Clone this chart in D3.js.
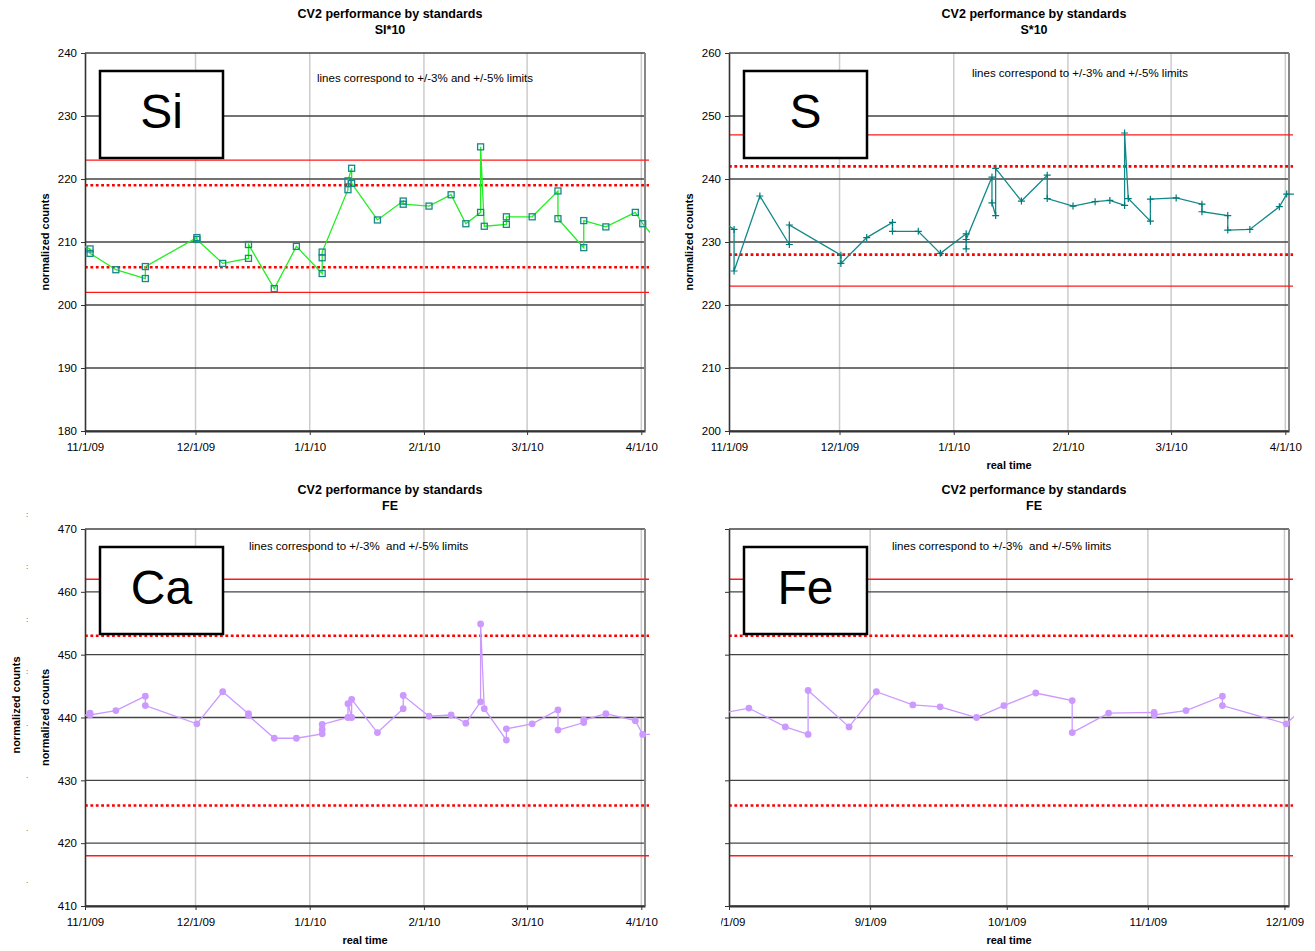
<!DOCTYPE html>
<html>
<head>
<meta charset="utf-8">
<script src="https://cdn.jsdelivr.net/npm/d3@7"></script>
<style>
  body { margin: 0; background: #fff; }
  svg { display: block; font-family: "Liberation Sans", Arial, sans-serif; }
  .tick text { font-size: 11.5px; fill: #000; }
</style>
</head>
<body>
<svg id="chart"></svg>
<script>
// ---- data ----
const siDates = ["2009-10-31","2009-11-02","2009-11-02","2009-11-09","2009-11-17","2009-11-17","2009-12-01","2009-12-01","2009-12-08","2009-12-15","2009-12-15","2009-12-22","2009-12-28","2010-01-04","2010-01-04","2010-01-04","2010-01-11","2010-01-11","2010-01-12","2010-01-12","2010-01-19","2010-01-26","2010-01-26","2010-02-02","2010-02-08","2010-02-12","2010-02-16","2010-02-16","2010-02-17","2010-02-23","2010-02-23","2010-03-02","2010-03-09","2010-03-09","2010-03-16","2010-03-16","2010-03-22","2010-03-30","2010-04-01","2010-04-03"];
const siValues = [209.4,208.9,208.2,205.6,204.2,206.1,210.7,210.4,206.6,207.4,209.6,202.6,209.3,205.0,207.5,208.4,218.3,219.7,221.7,219.3,213.5,216.5,216.0,215.7,217.5,212.9,214.7,225.1,212.5,212.8,214.0,214.0,218.1,213.7,209.1,213.4,212.4,214.7,212.9,211.5];

const sDates = siDates;
const sValues = [232.8,232.0,225.4,237.3,229.6,232.7,227.9,226.6,230.7,233.1,231.7,231.7,228.2,231.3,228.9,230.4,240.3,236.2,234.2,241.7,236.5,240.6,236.9,235.7,236.4,236.6,235.8,247.3,236.9,233.3,236.8,237.0,236.0,234.8,234.2,231.9,232.0,235.6,237.6,237.6];

const caDates = ["2009-10-31","2009-11-02","2009-11-02","2009-11-09","2009-11-17","2009-11-17","2009-12-01","2009-12-08","2009-12-15","2009-12-15","2009-12-22","2009-12-28","2010-01-04","2010-01-04","2010-01-04","2010-01-11","2010-01-11","2010-01-12","2010-01-12","2010-01-19","2010-01-26","2010-01-26","2010-02-02","2010-02-08","2010-02-12","2010-02-16","2010-02-16","2010-02-17","2010-02-23","2010-02-23","2010-03-02","2010-03-09","2010-03-09","2010-03-16","2010-03-16","2010-03-22","2010-03-30","2010-04-01","2010-04-03"];
const caValues = [440.2,440.7,440.4,441.1,443.4,441.9,439.0,444.1,440.6,440.3,436.7,436.7,437.4,438.1,438.9,440.0,442.2,440.0,442.9,437.6,441.4,443.5,440.2,440.4,439.1,442.5,454.9,441.4,436.4,438.2,439.0,441.2,438.0,439.2,439.6,440.6,439.5,437.3,437.3];

const feDates = ["2009-07-31","2009-08-05","2009-08-13","2009-08-18","2009-08-18","2009-08-27","2009-09-02","2009-09-10","2009-09-16","2009-09-24","2009-09-30","2009-10-07","2009-10-15","2009-10-15","2009-10-23","2009-11-02","2009-11-02","2009-11-09","2009-11-17","2009-11-17","2009-12-01","2009-12-03"];
const feValues = [440.8,441.5,438.5,437.3,444.3,438.5,444.1,442.0,441.7,440.0,441.9,443.9,442.7,437.6,440.7,440.8,440.4,441.1,443.4,441.9,439.0,440.3];

// +/-5% (solid) and +/-3% (dotted) limit lines
const siSolidLimits = [202, 223];
const siDottedLimits = [206, 219];
const sSolidLimits = [223, 247];
const sDottedLimits = [228, 242];
const caSolidLimits = [418, 462];
const caDottedLimits = [426, 453];
const feSolidLimits = caSolidLimits;
const feDottedLimits = caDottedLimits;

const titleLine1 = "CV2 performance by standards";
const subTitles = ["SI*10", "S*10", "FE", "FE"];
const elementNames = ["Si", "S", "Ca", "Fe"];
const noteText = ["lines correspond to +/-3% and +/-5% limits", "lines correspond to +/-3%  and +/-5% limits"];
const leftEdgeMarks = [":", ":", ":", ":", ".", ".", ".", "."]; // clipped labels of a hidden axis

// ---- drawing ----
const width = 1315, height = 951;
const svg = d3.select("#chart").attr("width", width).attr("height", height);
svg.append("rect").attr("width", width).attr("height", height).attr("fill", "#fff");

const parseDay = d3.timeParse("%Y-%m-%d");
// samples were run during the day, not at midnight
const toTime = s => d3.timeHour.offset(parseDay(s), 9);

const panels = [
  { left: 85, right: 645, top: 53, bottom: 431, yDomain: [180, 240], xDomain: ["2009-11-01", "2010-04-02"],
    dates: siDates, values: siValues, solid: siSolidLimits, dotted: siDottedLimits,
    sub: subTitles[0], name: elementNames[0], note: noteText[0], noteDx: 232, noteDy: 29,
    line: "#22ee22", marker: "square", markColor: "#168888", yLabel: true, yTickLabels: true, xLabel: false },
  { left: 729, right: 1289, top: 53, bottom: 431, yDomain: [200, 260], xDomain: ["2009-11-01", "2010-04-02"],
    dates: sDates, values: sValues, solid: sSolidLimits, dotted: sDottedLimits,
    sub: subTitles[1], name: elementNames[1], note: noteText[0], noteDx: 243, noteDy: 24,
    line: "#128888", marker: "plus", markColor: "#007b7b", yLabel: true, yTickLabels: true, xLabel: true },
  { left: 85, right: 645, top: 529, bottom: 906, yDomain: [410, 470], xDomain: ["2009-11-01", "2010-04-02"],
    dates: caDates, values: caValues, solid: caSolidLimits, dotted: caDottedLimits,
    sub: subTitles[2], name: elementNames[2], note: noteText[1], noteDx: 164, noteDy: 21,
    line: "#cc99ff", marker: "circle", markColor: "#cc99ff", yLabel: true, yTickLabels: true, xLabel: true },
  { left: 729, right: 1289, top: 529, bottom: 906, yDomain: [410, 470], xDomain: ["2009-08-01", "2009-12-02"],
    dates: feDates, values: feValues, solid: feSolidLimits, dotted: feDottedLimits,
    sub: subTitles[3], name: elementNames[3], note: noteText[1], noteDx: 163, noteDy: 21,
    line: "#cc99ff", marker: "circle", markColor: "#cc99ff", yLabel: false, yTickLabels: false, xLabel: true,
    cropLeft: 721 }
];

const defs = svg.append("defs");

panels.forEach((p, i) => {
  let root = svg.append("g");
  if (p.cropLeft) {
    defs.append("clipPath").attr("id", "crop" + i)
      .append("rect").attr("x", p.cropLeft).attr("y", 0).attr("width", width - p.cropLeft).attr("height", height);
    root.attr("clip-path", `url(#crop${i})`);
  }

  const x = d3.scaleTime().domain(p.xDomain.map(parseDay)).range([p.left, p.right]);
  const y = d3.scaleLinear().domain(p.yDomain).range([p.bottom, p.top]);
  const months = x.ticks(d3.timeMonth.every(1));
  const yTicks = y.ticks(6);

  // vertical grid (light grey)
  root.append("g").selectAll("line").data(months.filter(d => x(d) > p.left + 1)).join("line")
    .attr("x1", d => x(d)).attr("x2", d => x(d)).attr("y1", p.top).attr("y2", p.bottom)
    .attr("stroke", "#cccccc").attr("stroke-width", 1.5);

  // horizontal grid
  root.append("g").selectAll("line").data(yTicks).join("line")
    .attr("x1", p.left).attr("x2", p.right).attr("y1", d => y(d)).attr("y2", d => y(d))
    .attr("stroke", "#444").attr("stroke-width", 1.4);

  // right border
  root.append("line").attr("x1", p.right).attr("x2", p.right).attr("y1", p.top).attr("y2", p.bottom)
    .attr("stroke", "#888").attr("stroke-width", 2);

  // limit lines
  root.append("g").selectAll("line").data(p.solid).join("line")
    .attr("x1", p.left).attr("x2", p.right + 4).attr("y1", d => y(d)).attr("y2", d => y(d))
    .attr("stroke", "#ff1a1a").attr("stroke-width", 1.3);
  root.append("g").selectAll("line").data(p.dotted).join("line")
    .attr("x1", p.left).attr("x2", p.right + 4).attr("y1", d => y(d)).attr("y2", d => y(d))
    .attr("stroke", "#ff0000").attr("stroke-width", 2.6).attr("stroke-dasharray", "2.8,2.6");

  // axes
  const yAxis = d3.axisLeft(y).tickValues(yTicks).tickSize(4).tickSizeOuter(0).tickPadding(4);
  if (!p.yTickLabels) yAxis.tickFormat(() => "");
  const gy = root.append("g").attr("transform", `translate(${p.left},0)`).call(yAxis);
  gy.select(".domain").attr("stroke", "#333").attr("stroke-width", 1.6);
  gy.selectAll(".tick line").attr("stroke", "#333");

  const xAxis = d3.axisBottom(x).tickValues(months).tickFormat(d3.timeFormat("%-m/%-d/%y"))
    .tickSize(4).tickSizeOuter(0).tickPadding(7.5);
  const gx = root.append("g").attr("transform", `translate(0,${p.bottom})`).call(xAxis);
  gx.select(".domain").attr("stroke", "#333").attr("stroke-width", 2);
  gx.selectAll(".tick line").attr("stroke", "#333");

  // element box
  root.append("rect").attr("x", p.left + 15).attr("y", p.top + 18).attr("width", 123).attr("height", 87)
    .attr("fill", "#fff").attr("stroke", "#000").attr("stroke-width", 2.5);
  root.append("text").attr("x", p.left + 15 + 61.5).attr("y", p.top + 18 + 57)
    .attr("text-anchor", "middle").attr("font-size", 48).text(p.name);

  root.append("text").attr("x", p.left + p.noteDx).attr("y", p.top + p.noteDy)
    .attr("font-size", 11.5).style("white-space", "pre").text(p.note);

  // series
  const pts = p.dates.map((d, k) => ({ t: toTime(d), v: p.values[k] }));
  defs.append("clipPath").attr("id", "plot" + i)
    .append("rect").attr("x", p.left).attr("y", p.top - 6).attr("width", p.right - p.left + 5).attr("height", p.bottom - p.top + 12);
  const series = root.append("g").attr("clip-path", `url(#plot${i})`);
  series.append("path").datum(pts)
    .attr("d", d3.line().x(d => x(d.t)).y(d => y(d.v)))
    .attr("fill", "none").attr("stroke", p.line).attr("stroke-width", 1.3);

  const inside = pts.filter(d => d.t >= x.domain()[0] && d.t <= x.domain()[1]);
  const marks = series.append("g").selectAll("g").data(inside).join("g")
    .attr("transform", d => `translate(${x(d.t)},${y(d.v)})`);
  if (p.marker === "square") {
    marks.append("rect").attr("x", -3).attr("y", -3).attr("width", 6).attr("height", 6)
      .attr("fill", "none").attr("stroke", p.markColor).attr("stroke-width", 1.3);
  } else if (p.marker === "plus") {
    marks.append("path").attr("d", "M-3.5,0H3.5M0,-3.5V3.5")
      .attr("stroke", p.markColor).attr("stroke-width", 1.2);
  } else {
    marks.append("circle").attr("r", 3.4).attr("fill", p.markColor);
  }

  // titles and axis labels
  root.append("text").attr("x", p.left + 305).attr("y", p.top - 35)
    .attr("text-anchor", "middle").attr("font-size", 12.5).attr("font-weight", "bold").text(titleLine1);
  root.append("text").attr("x", p.left + 305).attr("y", p.top - 19)
    .attr("text-anchor", "middle").attr("font-size", 12.5).attr("font-weight", "bold").text(p.sub);

  if (p.yLabel) {
    root.append("text").attr("transform", `translate(${p.left - 36},${(p.top + p.bottom) / 2}) rotate(-90)`)
      .attr("text-anchor", "middle").attr("font-size", 11).attr("font-weight", "bold").text("normalized counts");
  }
  if (p.xLabel) {
    root.append("text").attr("x", (p.left + p.right) / 2).attr("y", p.bottom + 37.5)
      .attr("text-anchor", "middle").attr("font-size", 11).attr("font-weight", "bold").text("real time");
  }
});

// leftovers of a second chart peeking out behind the Ca panel
svg.append("text").attr("transform", "translate(20,705) rotate(-90)")
  .attr("text-anchor", "middle").attr("font-size", 11).attr("font-weight", "bold").text("normalized counts");
const markY = d3.scalePoint().domain(d3.range(leftEdgeMarks.length)).range([514, 880]);
svg.append("g").selectAll("text").data(leftEdgeMarks).join("text")
  .attr("x", 27).attr("y", (d, k) => markY(k) + 3).attr("text-anchor", "middle")
  .attr("font-size", 8).attr("fill", "#333").text(d => d);
</script>
</body>
</html>
